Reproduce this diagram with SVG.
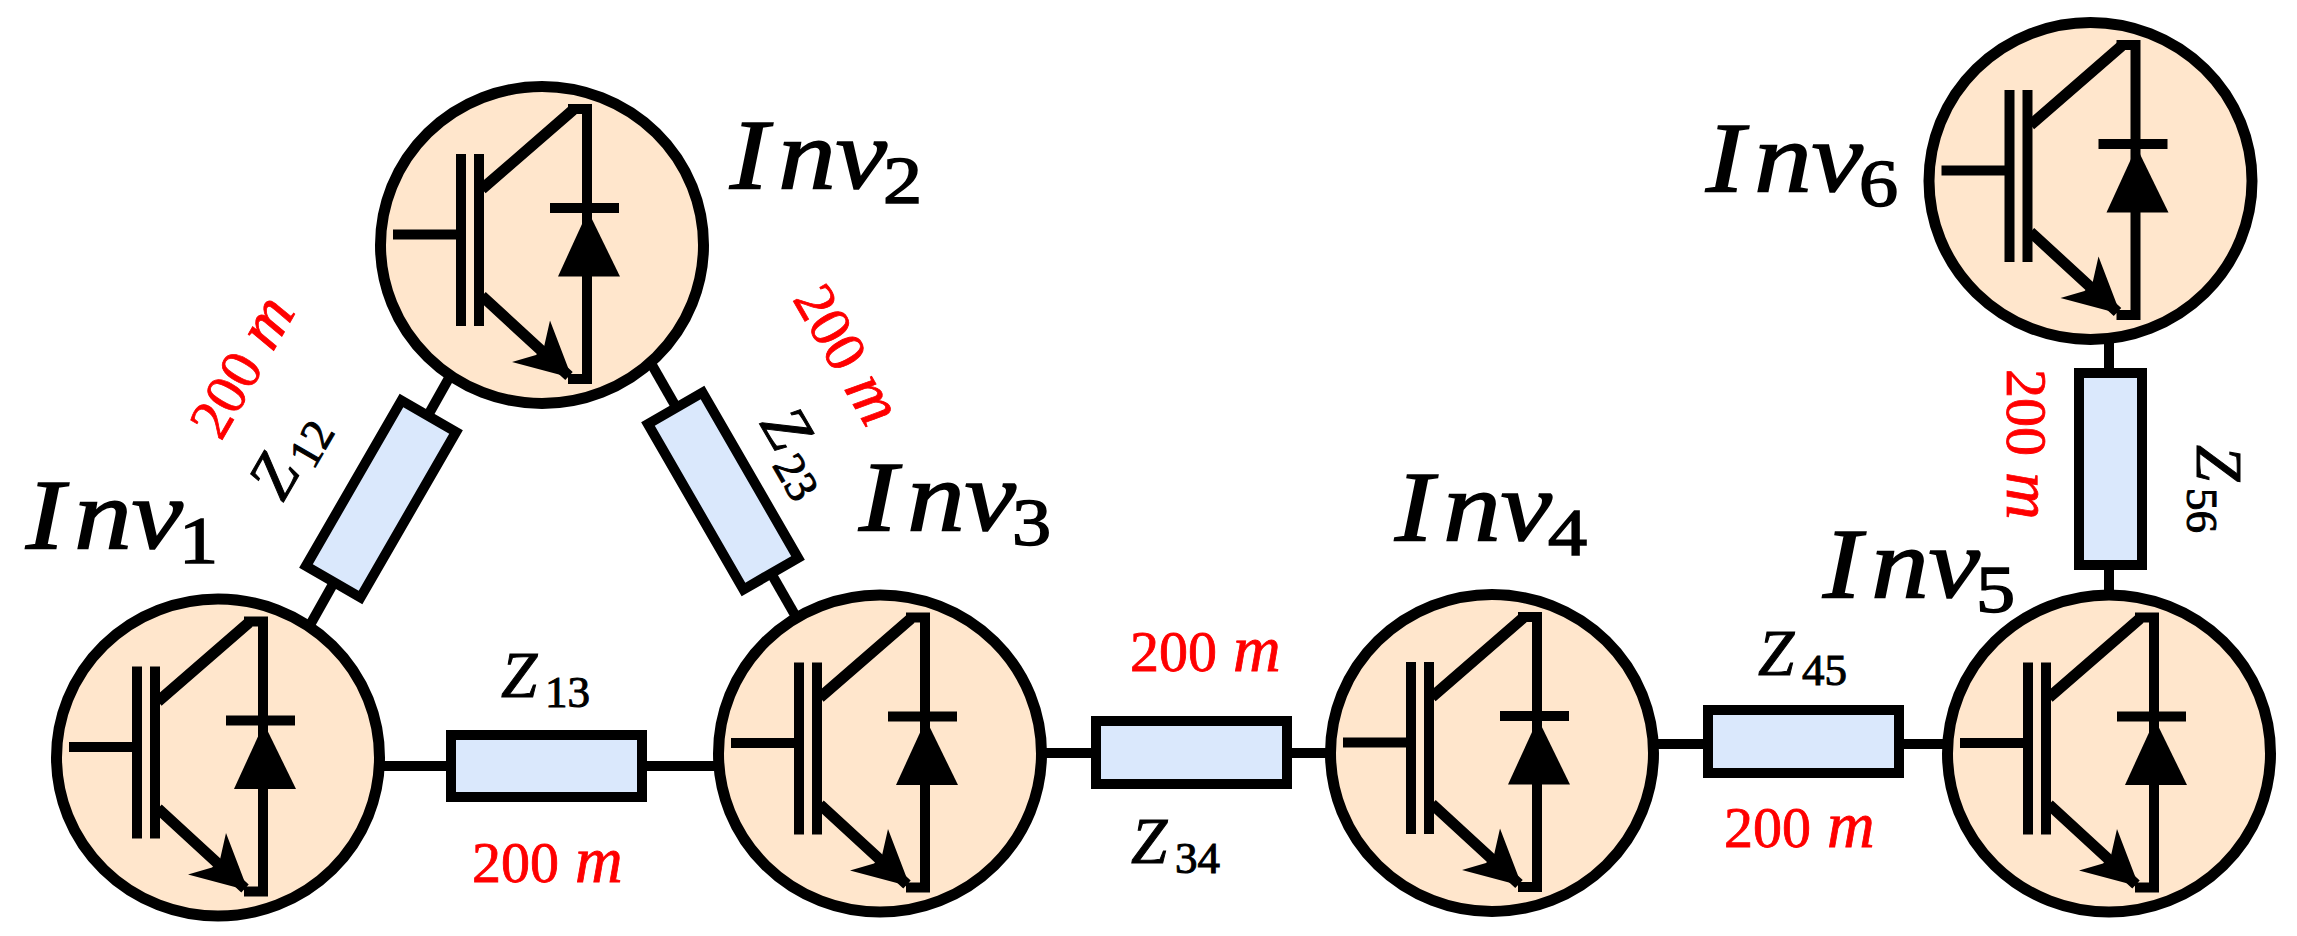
<svg xmlns="http://www.w3.org/2000/svg" width="2297" height="936" viewBox="0 0 2297 936">
<style>
.wire{stroke:#000;stroke-width:10;fill:none}
.bus{fill:#ffe6cc;stroke:#000;stroke-width:11}
.res{fill:#dae8fc;stroke:#000;stroke-width:10}
.sym{stroke:#000;stroke-width:10;fill:none}
.diag{stroke:#000;stroke-width:11;fill:none}
.solid{fill:#000;stroke:none}
text{font-family:"Liberation Serif","Times New Roman",serif;fill:#000}
.inv{font-size:100px;font-style:italic;stroke:#000;stroke-width:1.6}
.invs{font-size:68px;font-style:normal}
.z{font-size:65px;font-style:italic;stroke:#000;stroke-width:1}
.zs{font-size:45px;font-style:normal}
.len{font-size:58px;fill:#f00;stroke:#f00;stroke-width:.8}
.m{font-size:66px;font-style:italic}
</style>
<defs>
<g id="igbt">
<path class="sym" d="M-149-10.500H-86M-81-91V81M-63-91V81M45-141V139M26-136H50M26 134H50M8-37H77"/>
<path class="diag" d="M-60-56L31-135M-60 51L27 131"/>
<polygon class="solid" points="46,-34 16,31.500 78,31.500"/>
<polygon class="solid" points="30,133 8,75.500 2,102 -6,110 -30,117"/>
</g>
</defs>
<g id="connectors">
<path class="wire" d="M380 766H446M647 766H718"/>
<path class="wire" d="M449 378L310 625"/>
<path class="wire" d="M652 365L795 615"/>
<path class="wire" d="M1042 753H1091M1292 753H1330"/>
<path class="wire" d="M1654 744H1703M1904 744H1948"/>
<path class="wire" d="M2109 340V368M2109 570V595"/>
</g>
<g id="Z12">
<rect class="res" x="-95.500" y="-31.500" width="191" height="63" transform="translate(381,499) rotate(-60)"/>
<text class="z" transform="translate(283,503) rotate(-60)">Z<tspan class="zs" x="43" dy="10">12</tspan></text>
<text class="len" transform="translate(221,442) rotate(-60)">200 <tspan class="m" x="103">m</tspan></text>
</g>
<g id="Z23">
<rect class="res" x="-95.500" y="-31.500" width="191" height="63" transform="translate(723,491) rotate(60)"/>
<text class="z" transform="translate(759,423) rotate(60)">Z<tspan class="zs" x="43" dy="10">23</tspan></text>
<text class="len" transform="translate(792,299) rotate(60)">200 <tspan class="m" x="103">m</tspan></text>
</g>
<g id="Z13">
<rect class="res" x="451" y="735" width="191" height="62"/>
<text class="z" x="501" y="697">Z<tspan class="zs" x="545" dy="10">13</tspan></text>
<text class="len" x="472" y="882">200 <tspan class="m" x="575">m</tspan></text>
</g>
<g id="Z34">
<rect class="res" x="1096" y="721" width="191" height="63"/>
<text class="z" x="1131" y="863">Z<tspan class="zs" x="1175" dy="10">34</tspan></text>
<text class="len" x="1130" y="671">200 <tspan class="m" x="1233">m</tspan></text>
</g>
<g id="Z45">
<rect class="res" x="1708" y="710" width="191" height="63"/>
<text class="z" x="1758" y="675">Z<tspan class="zs" x="1802" dy="10">45</tspan></text>
<text class="len" x="1724" y="847">200 <tspan class="m" x="1827">m</tspan></text>
</g>
<g id="Z56">
<rect class="res" x="2079" y="373" width="63" height="192"/>
<text class="z" transform="translate(2197,445) rotate(90)">Z<tspan class="zs" x="43" dy="10">56</tspan></text>
<text class="len" transform="translate(2007,369) rotate(90)">200 <tspan class="m" x="103">m</tspan></text>
</g>
<g id="Inv1">
<ellipse class="bus" cx="218" cy="757.500" rx="161.500" ry="158.500"/>
<use href="#igbt" x="218" y="757.500"/>
<text class="inv" transform="translate(26,548) scale(1.15,1)"><tspan x="0 42 92">Inv</tspan><tspan class="invs" x="133" dy="15">1</tspan></text>
</g>
<g id="Inv2">
<ellipse class="bus" cx="542" cy="245" rx="161.500" ry="158.500"/>
<use href="#igbt" x="542" y="245"/>
<text class="inv" transform="translate(730,188) scale(1.15,1)"><tspan x="0 42 92">Inv</tspan><tspan class="invs" x="133" dy="15">2</tspan></text>
</g>
<g id="Inv3">
<ellipse class="bus" cx="880" cy="753.500" rx="161.500" ry="158.500"/>
<use href="#igbt" x="880" y="753.500"/>
<text class="inv" transform="translate(859,530) scale(1.15,1)"><tspan x="0 42 92">Inv</tspan><tspan class="invs" x="133" dy="15">3</tspan></text>
</g>
<g id="Inv4">
<ellipse class="bus" cx="1492" cy="753" rx="161.500" ry="158.500"/>
<use href="#igbt" x="1492" y="753"/>
<text class="inv" transform="translate(1395,540) scale(1.15,1)"><tspan x="0 42 92">Inv</tspan><tspan class="invs" x="133" dy="15">4</tspan></text>
</g>
<g id="Inv5">
<ellipse class="bus" cx="2109" cy="753.500" rx="161.500" ry="158.500"/>
<use href="#igbt" x="2109" y="753.500"/>
<text class="inv" transform="translate(1823,597) scale(1.15,1)"><tspan x="0 42 92">Inv</tspan><tspan class="invs" x="133" dy="15">5</tspan></text>
</g>
<g id="Inv6">
<ellipse class="bus" cx="2090.500" cy="181" rx="161.500" ry="158.500"/>
<use href="#igbt" x="2090.500" y="181"/>
<text class="inv" transform="translate(1706,191) scale(1.15,1)"><tspan x="0 42 92">Inv</tspan><tspan class="invs" x="133" dy="15">6</tspan></text>
</g>
</svg>
